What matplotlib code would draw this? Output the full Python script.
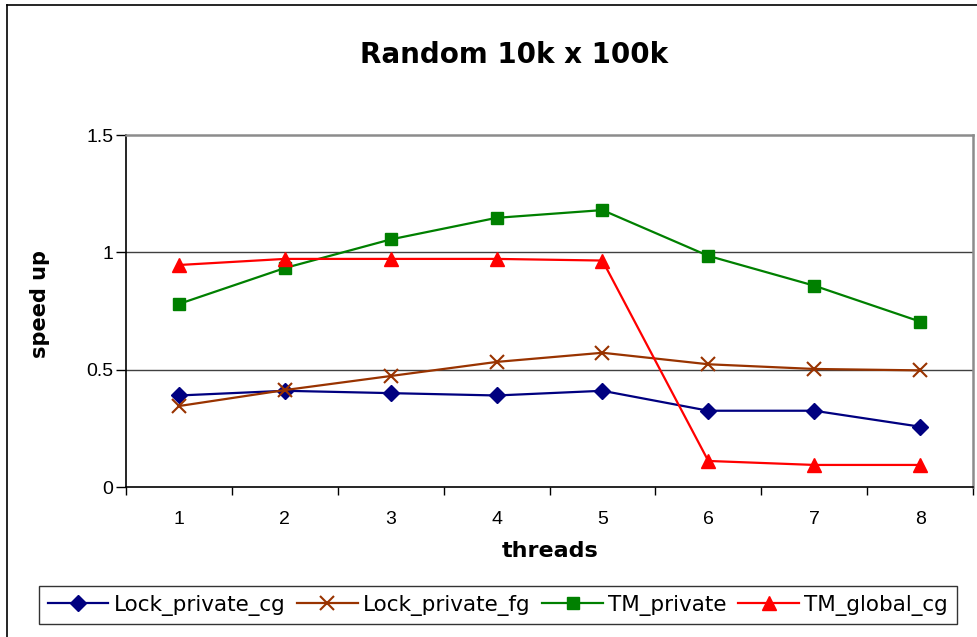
import matplotlib
matplotlib.use("Agg")
import matplotlib.pyplot as plt
from matplotlib.lines import Line2D
from matplotlib.ticker import FixedLocator

# Speed-up measurements per thread count
threads = [1, 2, 3, 4, 5, 6, 7, 8]
lock_private_cg = [0.39, 0.41, 0.40, 0.39, 0.41, 0.325, 0.325, 0.257]
lock_private_fg = [0.345, 0.413, 0.473, 0.533, 0.572, 0.523, 0.503, 0.497]
tm_private = [0.78, 0.933, 1.055, 1.147, 1.18, 0.985, 0.858, 0.705]
tm_global_cg = [0.946, 0.972, 0.972, 0.972, 0.965, 0.111, 0.094, 0.094]

series_names = ["Lock_private_cg", "Lock_private_fg", "TM_private", "TM_global_cg"]
y_ticks = [0, 0.5, 1, 1.5]
y_tick_labels = ["0", "0.5", "1", "1.5"]

W, H = 978, 637
fig = plt.figure(figsize=(W / 100, H / 100), dpi=100)
fig.patch.set_facecolor("white")

ax = fig.add_axes([126 / W, 1 - 487 / H, (973 - 126) / W, (487 - 135) / H])

styles = [
    dict(color="#000080", marker="D", markersize=8.5),
    dict(color="#993300", marker="x", markersize=10, markeredgewidth=1.5),
    dict(color="#008000", marker="s", markersize=8.5),
    dict(color="#FF0000", marker="^", markersize=10),
]
data = [lock_private_cg, lock_private_fg, tm_private, tm_global_cg]
handles = []
for name, vals, st in zip(series_names, data, styles):
    h, = ax.plot(threads, vals, linewidth=1.6, label=name, zorder=3, **st)
    handles.append(h)

ax.set_xlim(0.5, 8.5)
ax.set_ylim(0, 1.5)

# gridlines at the intermediate y ticks
for y in y_ticks[1:-1]:
    ax.axhline(y, color="#404040", linewidth=1.0, zorder=1)

ax.set_yticks(y_ticks)
ax.set_yticklabels(y_tick_labels, fontfamily="Liberation Sans", fontsize=14)
ax.tick_params(axis="y", direction="out", length=7, width=1, color="black", pad=2)

ax.set_xticks(threads)
ax.set_xticklabels([str(t) for t in threads], fontfamily="Liberation Sans", fontsize=14)
ax.tick_params(axis="x", which="major", length=0, pad=17)
ax.xaxis.set_minor_locator(FixedLocator([i + 0.5 for i in range(0, 9)]))
ax.tick_params(axis="x", which="minor", direction="out", length=6, width=1, color="black")

for side in ("left", "bottom"):
    ax.spines[side].set_color("black")
    ax.spines[side].set_linewidth(1.2)
for side in ("top", "right"):
    ax.spines[side].set_color("#8c8c8c")
    ax.spines[side].set_linewidth(1.8)

title_font = dict(family="DejaVu Sans", weight="bold")
fig.text(514 / W, 1 - 55 / H, "Random 10k x 100k", ha="center", va="center",
         fontsize=20, **title_font)
fig.text(550 / W, 1 - 551 / H, "threads", ha="center", va="center",
         fontsize=16, **title_font)
fig.text(40 / W, 1 - 304 / H, "speed up", ha="center", va="center",
         rotation=90, fontsize=15, **title_font)

# outer chart frame (left and top edges)
fig.add_artist(Line2D([7 / W, 7 / W], [0, 1 - 5 / H], transform=fig.transFigure,
                      color="black", linewidth=1.2))
fig.add_artist(Line2D([7 / W, 1], [1 - 5 / H, 1 - 5 / H], transform=fig.transFigure,
                      color="black", linewidth=1.2))

leg = fig.legend(handles, series_names, loc="center",
                 bbox_to_anchor=(498 / W, 1 - 605 / H), ncol=4,
                 frameon=True, fancybox=False, edgecolor="black",
                 prop=dict(family="DejaVu Sans", size=15.5),
                 handlelength=2.8, handletextpad=0.25, columnspacing=0.55,
                 borderaxespad=0, borderpad=0.4)
leg.get_frame().set_linewidth(1.0)

fig.savefig("out.png", dpi=100, facecolor="white")
